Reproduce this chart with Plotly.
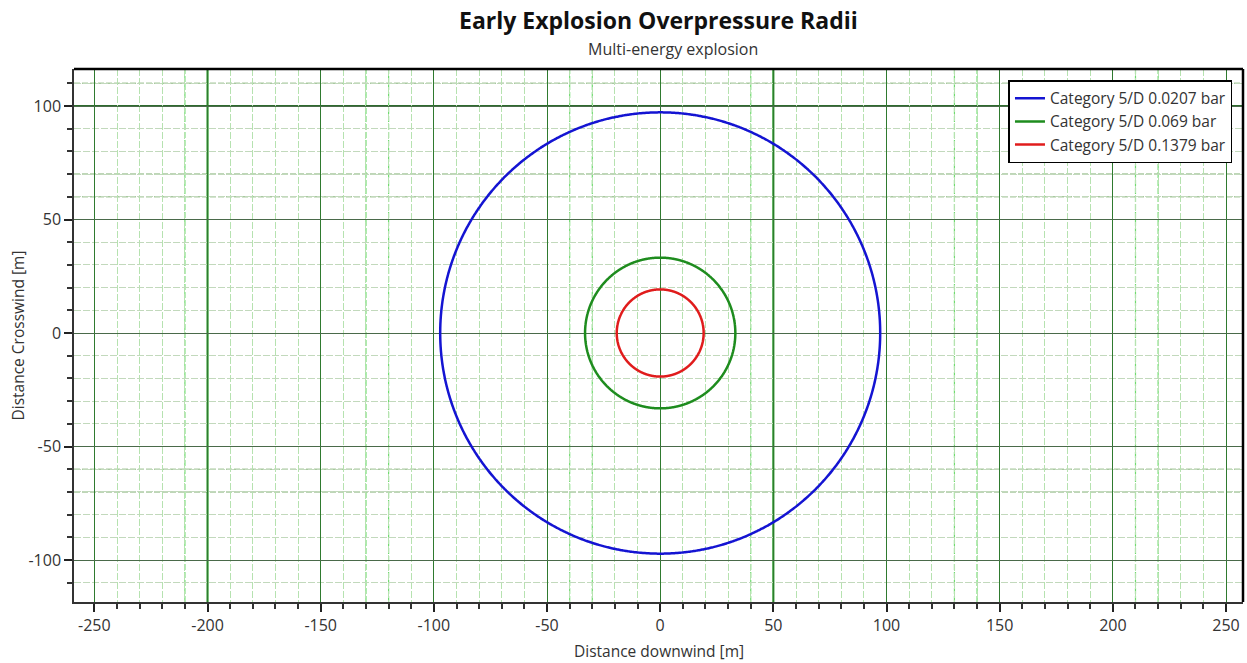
import numpy as np
import plotly.graph_objects as go

# Data
series_names = ["Category 5/D 0.0207 bar", "Category 5/D 0.069 bar", "Category 5/D 0.1379 bar"]
radii = [97.2, 33.2, 19.2]
colors = ["#1414d2", "#1e8c1e", "#e01c1c"]
x_ticks = [-250, -200, -150, -100, -50, 0, 50, 100, 150, 200, 250]
y_ticks = [-100, -50, 0, 50, 100]
bright_x = [-210, -130, -120, -40, -30, 40, 130, 140, 210, 220]
bright_y = [-70, -60, 60, 70, 110]
thick_x = [-200, 50]
thick_y = [100]

theta = np.linspace(0, 2 * np.pi, 721)
fig = go.Figure()
for name, r, c in zip(series_names, radii, colors):
    fig.add_trace(go.Scatter(x=r * np.cos(theta), y=r * np.sin(theta), mode="lines",
                             name=name, line=dict(color=c, width=2.5, shape="spline")))

shapes = []
for v in bright_x:
    shapes.append(dict(type="line", xref="x", yref="paper", x0=v, x1=v, y0=0, y1=1,
                       line=dict(color="#6fdc6f", width=1.2, dash="6px,2px"), layer="below"))
for v in bright_y:
    shapes.append(dict(type="line", xref="paper", yref="y", x0=0, x1=1, y0=v, y1=v,
                       line=dict(color="#a9c9a0", width=1.5, dash="6px,2px"), layer="below"))
for v in thick_x:
    shapes.append(dict(type="line", xref="x", yref="paper", x0=v, x1=v, y0=0, y1=1,
                       line=dict(color="#0a8a0a", width=2), layer="below"))
for v in thick_y:
    shapes.append(dict(type="line", xref="paper", yref="y", x0=0, x1=1, y0=v, y1=v,
                       line=dict(color="#2e6b2e", width=2.2), layer="below"))
# frame top/right
shapes.append(dict(type="line", xref="paper", yref="paper", x0=0, x1=1, y0=1, y1=1,
                   line=dict(color="#000000", width=2.5)))
shapes.append(dict(type="line", xref="paper", yref="paper", x0=1, x1=1, y0=0, y1=1,
                   line=dict(color="#000000", width=2.5)))

font_family = "Open Sans, Noto Sans, sans-serif"
fig.update_layout(
    width=1247, height=663,
    margin=dict(l=74, r=4, t=69, b=61),
    paper_bgcolor="white", plot_bgcolor="white",
    font=dict(family=font_family, size=16, color="#333333"),
    shapes=shapes,
    showlegend=True,
    legend=dict(x=0.991, y=0.979, xanchor="right", yanchor="top",
                bgcolor="white", bordercolor="black", borderwidth=1.5,
                font=dict(size=15.5, color="#333333"), tracegroupgap=0,
                itemwidth=30),
    annotations=[
        dict(text="<b>Early Explosion Overpressure Radii</b>", x=0.5, y=1, xref="paper", yref="paper",
             yanchor="middle", yshift=49, showarrow=False, font=dict(size=23, color="#111111")),
        dict(text="Multi-energy explosion", x=0.512, y=1, xref="paper", yref="paper",
             yanchor="middle", yshift=20, showarrow=False, font=dict(size=16, color="#333333")),
        dict(text="Distance downwind [m]", x=0.5, y=0, xref="paper", yref="paper",
             yanchor="middle", yshift=-49, showarrow=False, font=dict(size=15.5, color="#333333")),
        dict(text="Distance Crosswind [m]", x=0, y=0.5, xref="paper", yref="paper",
             xanchor="center", xshift=-57, showarrow=False, textangle=-90,
             font=dict(size=15.5, color="#333333")),
    ],
)

fig.update_xaxes(range=[-259, 257.5], tickvals=x_ticks, ticktext=[str(v) for v in x_ticks],
                 ticks="outside", ticklen=8, tickcolor="#222", tickwidth=1.5,
                 showline=True, linecolor="#333", linewidth=1.5, mirror=False,
                 showgrid=True, gridcolor="#2f7a2f", gridwidth=1, zeroline=False,
                 minor=dict(dtick=10, tick0=0, ticks="outside", ticklen=5, tickcolor="#333",
                            showgrid=True, gridcolor="#b6e2b0", griddash="7px,2px", gridwidth=1))
fig.update_yaxes(range=[-118.5, 116.3], tickvals=y_ticks, ticktext=[str(v) for v in y_ticks],
                 ticks="outside", ticklen=8, tickcolor="#222", tickwidth=1.5,
                 showline=True, linecolor="#333", linewidth=1.5,
                 showgrid=True, gridcolor="#4a6a4a", gridwidth=1, zeroline=False,
                 minor=dict(dtick=10, tick0=0, ticks="outside", ticklen=5, tickcolor="#333",
                            showgrid=True, gridcolor="#c2d9bc", griddash="7px,2px", gridwidth=1))

fig.write_html("out.html")
